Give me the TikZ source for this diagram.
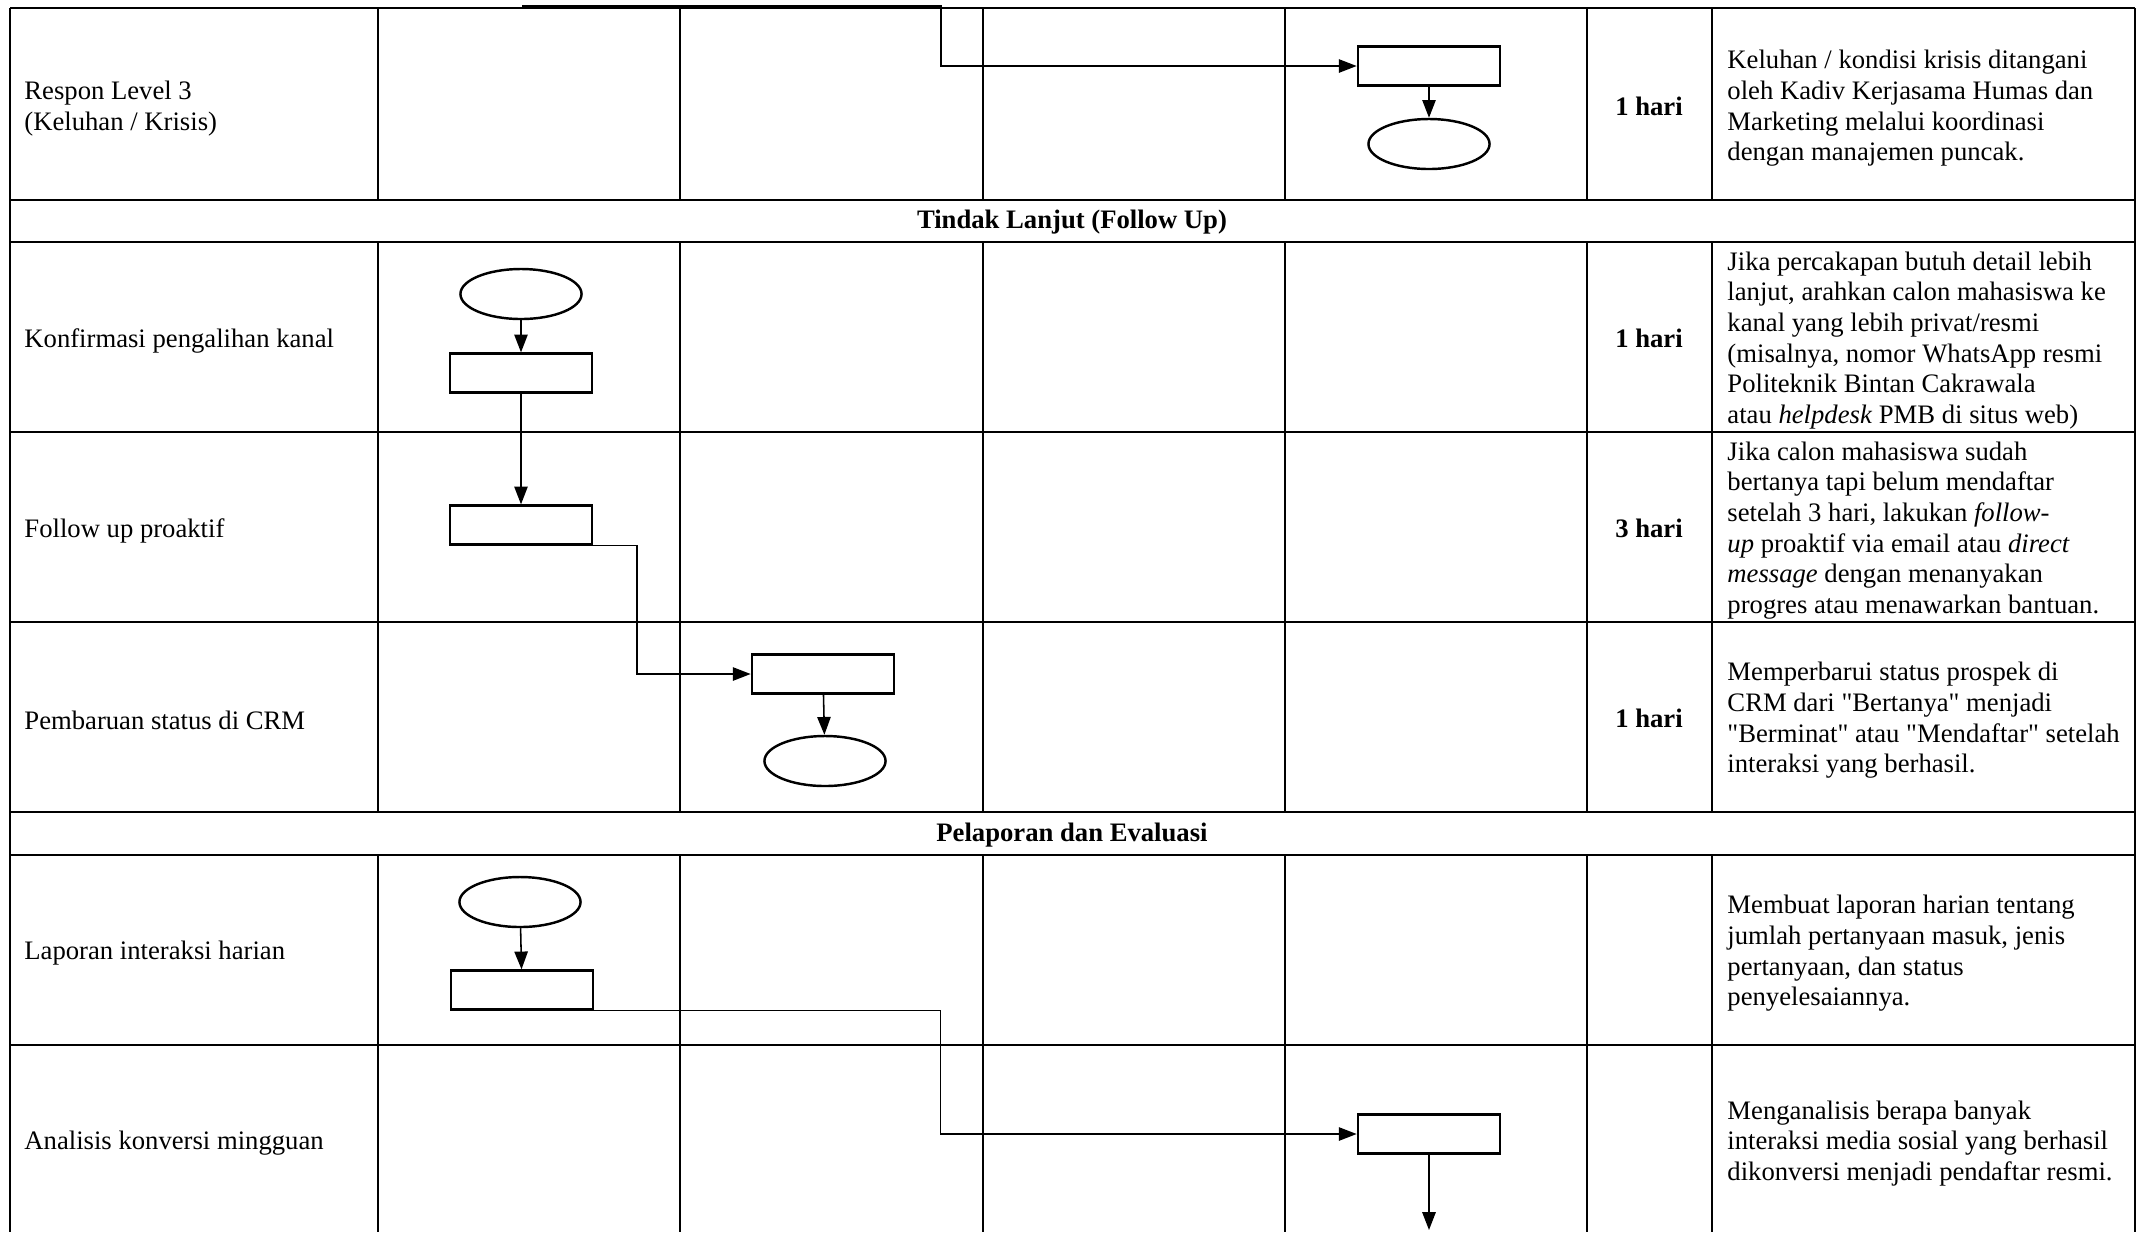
\documentclass[tikz,border=0pt]{standalone}
\usepackage{fontspec}
\setmainfont{Liberation Serif}
\usetikzlibrary{arrows.meta,shapes.geometric}

\tikzset{
	proses/.style={draw, line width=1.1pt, minimum width=64pt, minimum height=17.5pt, inner sep=0pt},
	terminal/.style={draw, ellipse, line width=1.1pt, minimum width=54.5pt, minimum height=22.5pt, inner sep=0pt},
	alur/.style={line width=0.7pt, -{Triangle[length=8pt,width=6pt]}},
	teks/.style={anchor=west, align=left, inner sep=0pt, yshift=-1.6pt},
	tebal/.style={font=\fontsize{12}{13.8}\selectfont\bfseries, inner sep=0pt, yshift=-0.6pt},
	baris/.style={line width=1pt},
	kolom/.style={line width=0.8pt},
}

\begin{document}
\begin{tikzpicture}[x=0.45pt,y=-0.45pt,font=\fontsize{12}{13.8}\selectfont]
			\useasboundingbox (0,0) rectangle (2144,1232);
			\draw[baris](10,8) -- (2135,8);
			\draw[baris](10,200) -- (2135,200);
			\draw[baris](10,242) -- (2135,242);
			\draw[baris](10,432) -- (2135,432);
			\draw[baris](10,622) -- (2135,622);
			\draw[baris](10,812) -- (2135,812);
			\draw[baris](10,855) -- (2135,855);
			\draw[baris](10,1045) -- (2135,1045);
			\draw[kolom](10,8) -- (10,1232);
			\draw[kolom](2135,8) -- (2135,1232);
			\draw[kolom](378,8) -- (378,200) (378,242) -- (378,812) (378,855) -- (378,1232);
			\draw[kolom](680,8) -- (680,200) (680,242) -- (680,812) (680,855) -- (680,1232);
			\draw[kolom](983,8) -- (983,200) (983,242) -- (983,812) (983,855) -- (983,1232);
			\draw[kolom](1285,8) -- (1285,200) (1285,242) -- (1285,812) (1285,855) -- (1285,1232);
			\draw[kolom](1587,8) -- (1587,200) (1587,242) -- (1587,812) (1587,855) -- (1587,1232);
			\draw[kolom](1712,8) -- (1712,200) (1712,242) -- (1712,812) (1712,855) -- (1712,1232);
			\node[tebal] (hdfollow) at (1072,221) {Tindak Lanjut (Follow Up)};
			\node[tebal] (hdlapor) at (1072,834) {Pelaporan dan Evaluasi};
			\node[teks] (lbrespon) at (24,105) {Respon Level 3\\(Keluhan / Krisis)};
			\node[teks] (lbkonfirm) at (24,337) {Konfirmasi pengalihan kanal};
			\node[teks] (lbfollow) at (24,527) {Follow up proaktif};
			\node[teks] (lbcrm) at (24,717) {Pembaruan status di CRM};
			\node[teks] (lblapor) at (24,950) {Laporan interaksi harian};
			\node[teks] (lbanalis) at (24,1140) {Analisis konversi mingguan};
			\node[tebal] (drrespon) at (1649,105) {1 hari};
			\node[tebal] (drkonfirm) at (1649,337) {1 hari};
			\node[tebal] (drfollow) at (1649,527) {3 hari};
			\node[tebal] (drcrm) at (1649,717) {1 hari};
			\node[teks] (ktrespon) at (1727,105) {Keluhan / kondisi krisis ditangani\\oleh Kadiv Kerjasama Humas dan\\Marketing melalui koordinasi\\dengan manajemen puncak.};
			\node[teks] (ktkonfirm) at (1727,337) {Jika percakapan butuh detail lebih\\lanjut, arahkan calon mahasiswa ke\\kanal yang lebih privat/resmi\\(misalnya, nomor WhatsApp resmi\\Politeknik Bintan Cakrawala\\atau \textit{helpdesk} PMB di situs web)};
			\node[teks] (ktfollow) at (1727,527) {Jika calon mahasiswa sudah\\bertanya tapi belum mendaftar\\setelah 3 hari, lakukan \textit{follow-}\\\textit{up} proaktif via email atau \textit{direct}\\\textit{message} dengan menanyakan\\progres atau menawarkan bantuan.};
			\node[teks] (ktcrm) at (1727,717) {Memperbarui status prospek di\\CRM dari \textquotedbl Bertanya\textquotedbl{} menjadi\\\textquotedbl Berminat\textquotedbl{} atau \textquotedbl Mendaftar\textquotedbl{} setelah\\interaksi yang berhasil.};
			\node[teks] (ktlapor) at (1727,950) {Membuat laporan harian tentang\\jumlah pertanyaan masuk, jenis\\pertanyaan, dan status\\penyelesaiannya.};
			\node[teks] (ktanalis) at (1727,1140) {Menganalisis berapa banyak\\interaksi media sosial yang berhasil\\dikonversi menjadi pendaftar resmi.};
			\coordinate (masuk) at (522,6);
			\node[proses] (respon) at (1429,66) {};
			\node[terminal] (responend) at (1429,144) {};
			\node[terminal] (konfirmstart) at (521,294) {};
			\node[proses] (konfirm) at (521,373) {};
			\node[proses] (follow) at (521,525) {};
			\node[proses] (crm) at (823,674) {};
			\node[terminal] (crmend) at (825,761) {};
			\node[terminal] (laporstart) at (520,902) {};
			\node[proses] (lapor) at (522,990) {};
			\node[proses] (analis) at (1429,1134) {};
			\coordinate (keluar) at (1429,1230);
			\draw[alur](masuk) -- ++(419,0) |- (respon.west);
			\draw[alur](respon) -- (responend);
			\draw[alur](konfirmstart) -- (konfirm);
			\draw[alur](konfirm) -- (follow);
			\draw[alur](follow.south) -- ++(116,0) |- (crm.west);
			\draw[alur](crm) -- (crmend);
			\draw[alur](laporstart) -- (lapor);
			\draw[alur](lapor.south east) -- ++(346,0) |- (analis.west);
			\draw[alur](analis) -- (keluar);
		\end{tikzpicture}
\end{document}
